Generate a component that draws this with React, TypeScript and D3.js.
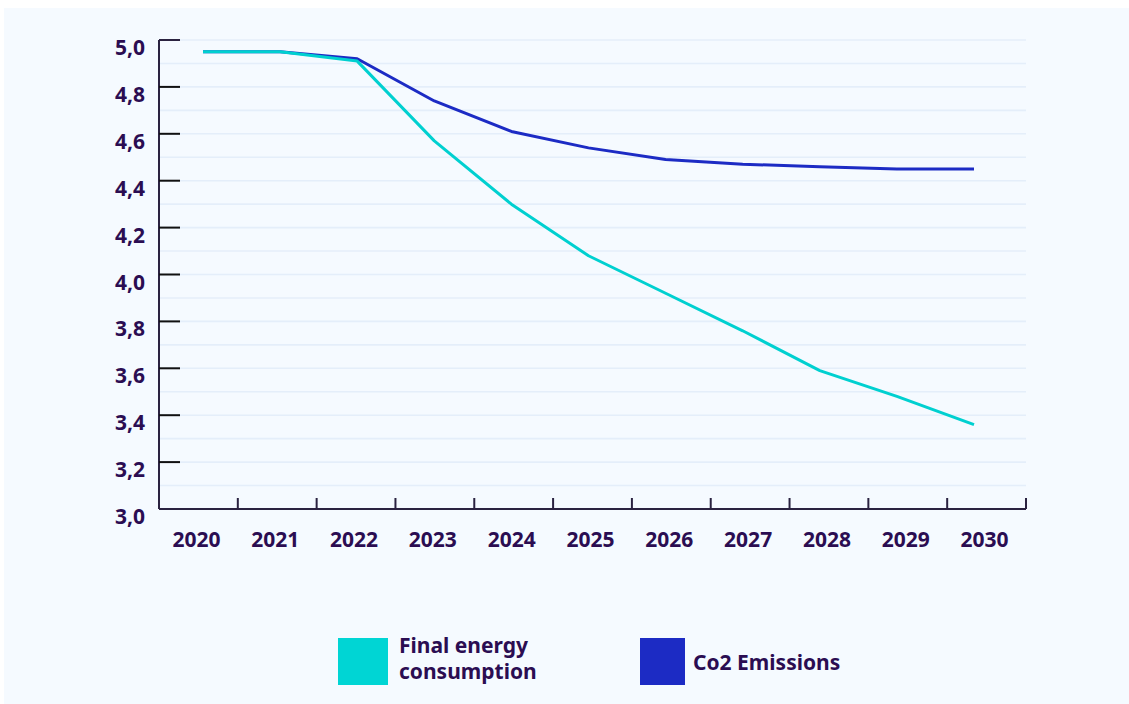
import React from "react";
import * as d3 from "d3";

const years = ["2020", "2021", "2022", "2023", "2024", "2025", "2026", "2027", "2028", "2029", "2030"];
const finalEnergy = [4.95, 4.95, 4.91, 4.57, 4.3, 4.08, 3.92, 3.76, 3.59, 3.48, 3.36];
const co2Emissions = [4.95, 4.95, 4.92, 4.74, 4.61, 4.54, 4.49, 4.47, 4.46, 4.45, 4.45];
const majorTicks = [3.0, 3.2, 3.4, 3.6, 3.8, 4.0, 4.2, 4.4, 4.6, 4.8, 5.0];
const minorTicks = d3.range(3.1, 5.0, 0.2);

const legendItems = [
  { lines: ["Final energy", "consumption"], color: "#00d5d4" },
  { lines: ["Co2 Emissions"], color: "#1c2bc4" },
];

const W = 1129;
const H = 704;
const plot = { left: 159, right: 1026, top: 40, bottom: 509 };
const textColor = "#2b0d52";
const axisColor = "#2a2240";
const gridColor = "#e4eefa";
const font = "'Noto Sans', 'Open Sans', sans-serif";

export default function App() {
  const y = d3.scaleLinear().domain([3, 5]).range([plot.bottom, plot.top]);
  const xBand = d3.scaleBand().domain(years).range([plot.left, plot.right]).padding(0);
  const xLine = d3.scalePoint().domain(years).range([203, 974]);

  const line = d3
    .line<number>()
    .x((_, i) => xLine(years[i]) as number)
    .y((d) => y(d));

  const fmt = (v: number) => v.toFixed(1).replace(".", ",");

  return (
    <svg
      width={W}
      height={H}
      style={{ position: "absolute", left: 0, top: 0 }}
      fontFamily={font}
    >
      <rect x={0} y={0} width={W} height={H} fill="#ffffff" />
      <rect x={4} y={8} width={W - 4} height={H - 8} fill="#f5faff" />

      {/* grid */}
      {[...minorTicks, ...majorTicks].map((t, i) => (
        <line
          key={"g" + i}
          x1={plot.left}
          x2={plot.right}
          y1={y(t)}
          y2={y(t)}
          stroke={gridColor}
          strokeWidth={1.6}
        />
      ))}

      {/* y axis */}
      <line x1={plot.left} x2={plot.left} y1={plot.top} y2={plot.bottom} stroke={axisColor} strokeWidth={2} />
      {majorTicks.map((t) => (
        <g key={"y" + t}>
          <line
            x1={plot.left}
            x2={plot.left + 21}
            y1={y(t)}
            y2={y(t)}
            stroke={t === 5 ? axisColor : "#111"}
            strokeWidth={2}
          />
          <text
            x={145}
            y={y(t) + 15}
            textAnchor="end"
            fontSize={21}
            fontWeight={700}
            fill={textColor}
          >
            {fmt(t)}
          </text>
        </g>
      ))}

      {/* x axis */}
      <line x1={plot.left} x2={plot.right} y1={plot.bottom} y2={plot.bottom} stroke={axisColor} strokeWidth={2} />
      {years.map((yr) => {
        const x0 = (xBand(yr) as number) + xBand.bandwidth();
        return (
          <g key={"x" + yr}>
            <line x1={x0} x2={x0} y1={plot.bottom} y2={plot.bottom - 11} stroke={axisColor} strokeWidth={2} />
            <text
              x={(xBand(yr) as number) + xBand.bandwidth() / 2 - 2}
              y={547}
              textAnchor="middle"
              fontSize={21}
              fontWeight={700}
              fill={textColor}
            >
              {yr}
            </text>
          </g>
        );
      })}

      {/* series */}
      <path d={line(co2Emissions) ?? ""} fill="none" stroke="#1c2bc4" strokeWidth={3} strokeLinejoin="round" />
      <path d={line(finalEnergy) ?? ""} fill="none" stroke="#00d0d0" strokeWidth={3} strokeLinejoin="round" />

      {/* legend */}
      {legendItems.map((item, i) => {
        const sx = i === 0 ? 338 : 640;
        const sw = i === 0 ? 50 : 45;
        return (
          <g key={"l" + i}>
            <rect x={sx} y={638} width={sw} height={47} fill={item.color} />
            {item.lines.map((ln, j) => (
              <text
                key={j}
                x={sx + sw + (i === 0 ? 11 : 8)}
                y={item.lines.length === 1 ? 670 : 653 + j * 26}
                fontSize={21}
                fontWeight={700}
                fill={textColor}
              >
                {ln}
              </text>
            ))}
          </g>
        );
      })}
    </svg>
  );
}
